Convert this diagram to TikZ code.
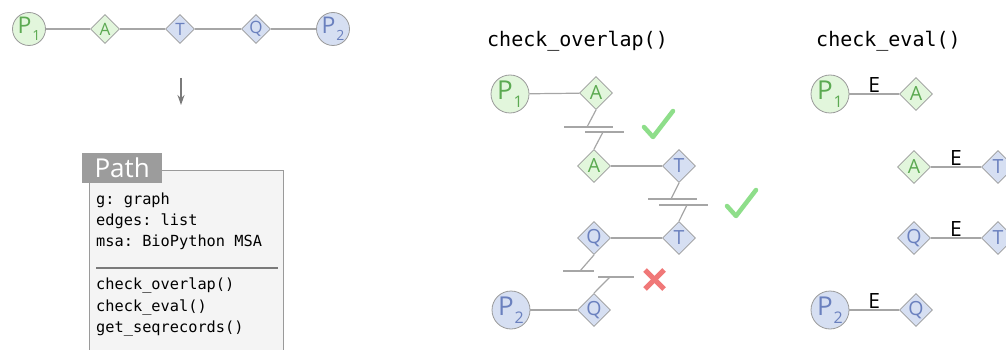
\documentclass[tikz,border=0pt]{standalone}
\usepackage{fontspec}
\setmainfont{Open Sans}
\setmonofont{DejaVu Sans Mono}
\usetikzlibrary{shapes.geometric,arrows.meta}

\definecolor{gfill}{HTML}{E2F6DC}
\definecolor{gtext}{HTML}{5CAA52}
\definecolor{bfill}{HTML}{D6DFF2}
\definecolor{btext}{HTML}{6A80BE}
\definecolor{edgegray}{HTML}{9A9A9A}
\definecolor{linegray}{HTML}{A6A6A6}
\definecolor{checkgreen}{HTML}{8EDE8A}
\definecolor{crossred}{HTML}{F07878}
\definecolor{boxfill}{HTML}{F4F4F4}
\definecolor{headgray}{HTML}{9C9C9C}
\definecolor{arrowgray}{HTML}{7A7A7A}

% P with a lowered index: size, index size, index
\newcommand{\ptag}[3]{\fontsize{#1}{#1}\selectfont P\kern0.03em\raisebox{-0.32em}{\fontsize{#2}{#2}\selectfont #3}}

\begin{document}
\begin{tikzpicture}[x=1pt,y=-1pt,
  gres/.style={fill=gfill,text=gtext},
  bres/.style={fill=bfill,text=btext},
  pbig/.style={circle,draw=edgegray,line width=0.8pt,inner sep=0pt,minimum size=38pt},
  psmall/.style={circle,draw=edgegray,line width=0.8pt,inner sep=0pt,minimum size=33pt},
  rbig/.style={diamond,draw=edgegray,line width=0.8pt,inner sep=0pt,minimum size=33pt,
               font=\fontsize{19.5}{19.5}\selectfont},
  rsmall/.style={diamond,draw=edgegray,line width=0.8pt,inner sep=0pt,minimum size=29pt,
               font=\fontsize{17}{17}\selectfont},
  link/.style={draw=linegray,line width=1.2pt},
  bar/.style={draw=linegray,line width=1.3pt},
  code/.style={anchor=base west,inner sep=0pt,font=\ttfamily\fontsize{15.3}{15.3}\selectfont},
  title/.style={anchor=base west,inner sep=0pt,font=\ttfamily\fontsize{20}{20}\selectfont},
  elabel/.style={midway,above,inner sep=1pt,font=\fontsize{21}{21}\selectfont},
  okmark/.style={draw=checkgreen,line width=4.5pt,line cap=round,line join=round},
  badmark/.style={draw=crossred,line width=5pt},
]
\useasboundingbox (0,0) rectangle (1006,350);

% ---------------- the path as a chain of nodes ----------------
\node[psmall,gres] (tp1) at (29,29) {\ptag{23}{14}{1}};
\node[rsmall,gres] (ta)  at (105,29) {A};
\node[rsmall,bres] (tt)  at (180,29) {T};
\node[rsmall,bres] (tq)  at (256,29) {Q};
\node[psmall,bres] (tp2) at (333,29) {\ptag{23}{14}{2}};
\draw[link] (tp1) -- (ta) -- (tt) -- (tq) -- (tp2);

\coordinate (arrtop) at (181,78);
\coordinate (arrbot) at (181,105);
\draw[draw=arrowgray,line width=1.6pt,-{Stealth[length=10pt,width=7pt]}] (arrtop) -- (arrbot);

% ---------------- Path class box ----------------
\node[draw=edgegray,fill=boxfill,line width=0.8pt,minimum width=194pt,minimum height=200pt,
      inner sep=0pt,anchor=north west] (body) at (89,170) {};
\node[fill=headgray,minimum width=80pt,minimum height=30pt,inner sep=0pt,anchor=north west,
      text=white,font=\fontsize{26}{26}\selectfont] (head) at (82,153) {Path};
\node[code] (f1) at (96,204) {g: graph};
\node[code] (f2) at (96,225) {edges: list};
\node[code] (f3) at (96,246) {msa: BioPython MSA};
\coordinate (sepl) at (96,268);
\coordinate (sepr) at (278,268);
\draw[draw=arrowgray,line width=1.4pt] (sepl) -- (sepr);
\node[code] (m1) at (96,289) {check\_overlap()};
\node[code] (m2) at (96,311) {check\_eval()};
\node[code] (m3) at (96,332) {get\_seqrecords()};

% ---------------- check_overlap() ----------------
\node[title] (ovtitle) at (487,47) {check\_overlap()};

\node[pbig,gres] (op1) at (510,94) {\ptag{26}{16}{1}};
\node[rbig,gres] (oa1) at (596,93) {A};
\node[rbig,gres] (oa2) at (594,166) {A};
\node[rbig,bres] (ot1) at (679,166) {T};
\node[rbig,bres] (ot2) at (679,238) {T};
\node[rbig,bres] (oq1) at (594,238) {Q};
\node[rbig,bres] (oq2) at (594,310) {Q};
\node[pbig,bres] (op2) at (511,310) {\ptag{26}{16}{2}};

\draw[link] (op1) -- (oa1);
\draw[link] (oa2) -- (ot1);
\draw[link] (oq1) -- (ot2);
\draw[link] (op2) -- (oq2);

% overlap joints
\coordinate (j1a) at (587,127); \coordinate (j1b) at (603,132);
\draw[bar] (564,127) -- (613,127);
\draw[bar] (585,132) -- (624,132);
\draw[link] (oa1.south) -- (j1a);
\draw[link] (j1b) -- (oa2.north);

\coordinate (j2a) at (671,199); \coordinate (j2b) at (687,205);
\draw[bar] (648,199) -- (697,199);
\draw[bar] (659,205) -- (708,205);
\draw[link] (ot1.south) -- (j2a);
\draw[link] (j2b) -- (ot2.north);

\coordinate (j3a) at (580,271); \coordinate (j3b) at (610,277);
\draw[bar] (563,271) -- (594,271);
\draw[bar] (598,277) -- (634,277);
\draw[link] (oq1.south) -- (j3a);
\draw[link] (j3b) -- (oq2.north);

% verdicts
\draw[okmark] (644,127) -- (653,137) -- (673,111);
\draw[okmark] (727,206) -- (736,216) -- (756,190);
\draw[badmark] (645,270) -- (664,289);
\draw[badmark] (664,270) -- (645,289);

% ---------------- check_eval() ----------------
\node[title] (evtitle) at (816,47) {check\_eval()};

\node[pbig,gres] (ep1) at (830,94) {\ptag{26}{16}{1}};
\node[rbig,gres] (ea1) at (916,94) {A};
\node[rbig,gres] (ea2) at (914,167) {A};
\node[rbig,bres] (et1) at (998,167) {T};
\node[rbig,bres] (eq1) at (914,238) {Q};
\node[rbig,bres] (et2) at (998,238) {T};
\node[pbig,bres] (ep2) at (830,310) {\ptag{26}{16}{2}};
\node[rbig,bres] (eq2) at (916,310) {Q};

\draw[link] (ep1) -- node[elabel] {E} (ea1);
\draw[link] (ea2) -- node[elabel] {E} (et1);
\draw[link] (eq1) -- node[elabel] {E} (et2);
\draw[link] (ep2) -- node[elabel] {E} (eq2);
\end{tikzpicture}
\end{document}
